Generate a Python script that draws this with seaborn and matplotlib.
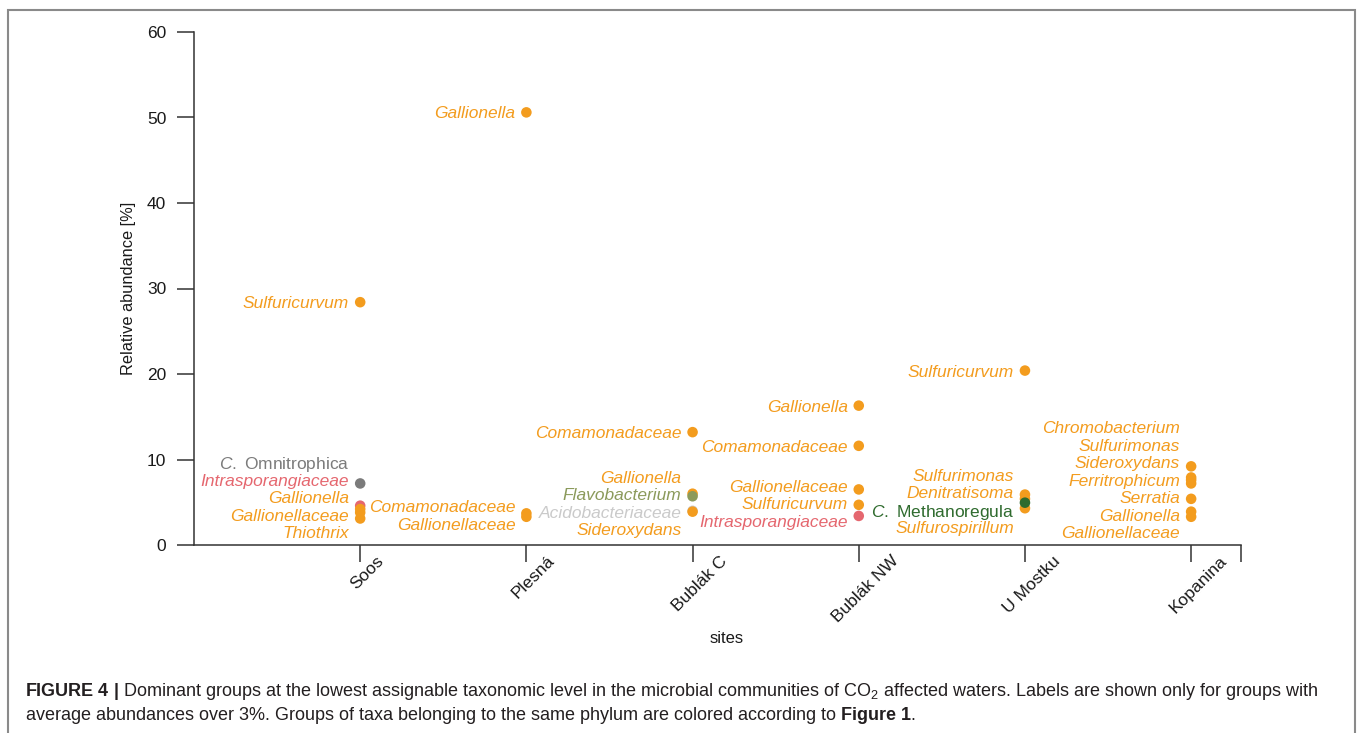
import numpy as np
import pandas as pd
import matplotlib
matplotlib.use("Agg")
import matplotlib.pyplot as plt
import matplotlib.transforms as mtransforms
from matplotlib.patches import Rectangle
import seaborn as sns

# DATA
sites = ["Soos", "Plesná", "Bublák C", "Bublák NW", "U Mostku", "Kopanina"]

site_col = (["Soos"] * 6 + ["Plesná"] * 3 + ["Bublák C"] * 5 + ["Bublák NW"] * 5
            + ["U Mostku"] * 5 + ["Kopanina"] * 7)
taxa = ["Sulfuricurvum", "C. Omnitrophica", "Intrasporangiaceae", "Gallionella", "Gallionellaceae", "Thiothrix",
        "Gallionella", "Comamonadaceae", "Gallionellaceae",
        "Comamonadaceae", "Gallionella", "Flavobacterium", "Acidobacteriaceae", "Sideroxydans",
        "Gallionella", "Comamonadaceae", "Gallionellaceae", "Sulfuricurvum", "Intrasporangiaceae",
        "Sulfuricurvum", "Sulfurimonas", "Denitratisoma", "Sulfurospirillum", "C. Methanoregula",
        "Chromobacterium", "Sulfurimonas", "Sideroxydans", "Ferritrophicum", "Serratia", "Gallionella", "Gallionellaceae"]
phylum = ["Proteobacteria", "Omnitrophica", "Actinobacteria", "Proteobacteria", "Proteobacteria", "Proteobacteria",
          "Proteobacteria", "Proteobacteria", "Proteobacteria",
          "Proteobacteria", "Proteobacteria", "Bacteroidetes", "Acidobacteria", "Proteobacteria",
          "Proteobacteria", "Proteobacteria", "Proteobacteria", "Proteobacteria", "Actinobacteria",
          "Proteobacteria", "Proteobacteria", "Proteobacteria", "Proteobacteria", "Euryarchaeota",
          "Proteobacteria", "Proteobacteria", "Proteobacteria", "Proteobacteria", "Proteobacteria", "Proteobacteria", "Proteobacteria"]
abundance = [28.4, 7.2, 4.6, 4.2, 3.8, 3.1,
             50.6, 3.7, 3.3,
             13.2, 6.0, 5.7, 4.0, 3.9,
             16.3, 11.6, 6.5, 4.7, 3.4,
             20.4, 5.9, 5.4, 4.3, 4.95,
             9.2, 7.9, 7.6, 7.2, 5.4, 3.9, 3.3]

palette = {"Proteobacteria": "#F39C1E", "Omnitrophica": "#7B7B7B", "Actinobacteria": "#E5676F",
           "Bacteroidetes": "#8B9A5B", "Acidobacteria": "#CACACA", "Euryarchaeota": "#2F6B2E"}

df = pd.DataFrame({"site": site_col, "taxon": taxa, "phylum": phylum, "abundance": abundance})

# STYLE
sns.set_style("ticks")
plt.rcParams["font.family"] = ["Liberation Sans", "DejaVu Sans"]
plt.rcParams["mathtext.fontset"] = "custom"
plt.rcParams["mathtext.rm"] = "Liberation Sans"
plt.rcParams["mathtext.it"] = "Liberation Sans:italic"
plt.rcParams["mathtext.bf"] = "Liberation Sans:bold"

fig = plt.figure(figsize=(13.6, 7.33), dpi=100)
ax = fig.add_axes([194 / 1360, 1 - 545 / 733, (1241 - 194) / 1360, (545 - 32) / 733])

sns.stripplot(data=df, x="site", y="abundance", hue="phylum", order=sites,
              palette=palette, jitter=False, size=7.6, linewidth=0, legend=False, ax=ax)


# stack labels left of the points so they do not overlap
def stack_labels(vals, gap=2.05, floor=1.5):
    n = len(vals)
    t = vals + np.arange(n) * gap
    blocks = []
    for v in t:
        blocks.append([v, 1])
        while len(blocks) > 1 and blocks[-2][0] / blocks[-2][1] < blocks[-1][0] / blocks[-1][1]:
            s, c = blocks.pop()
            blocks[-1][0] += s
            blocks[-1][1] += c
    q = np.concatenate([[s / c] * c for s, c in blocks])
    p = q - np.arange(n) * gap
    p[-1] = max(p[-1], floor)
    for i in range(n - 2, -1, -1):
        p[i] = max(p[i], p[i + 1] + gap)
    return p


for i, s in enumerate(sites):
    sub = df[df["site"] == s].sort_values("abundance", ascending=False)
    ys = stack_labels(sub["abundance"].to_numpy())
    for (_, row), y in zip(sub.iterrows(), ys):
        name = row["taxon"]
        if name.startswith("C. "):
            txt, style = r"$\mathit{C.}$ " + name[3:], "normal"
        else:
            txt, style = name, "italic"
        ax.annotate(txt, xy=(i, y), xytext=(-8, 0), textcoords="offset points",
                    ha="right", va="center_baseline", fontsize=12.5, fontstyle=style,
                    color=palette[row["phylum"]])

ax.set_xlim(-1.0, 5.3)
ax.set_ylim(0, 60)
ax.set_yticks([0, 10, 20, 30, 40, 50, 60])
ax.set_xticks(range(len(sites)))
ax.set_xticklabels(sites, rotation=45)
ax.set_xticks([5.3], minor=True)
ax.tick_params(axis="both", which="both", length=12, width=1.1, color="#333333",
               labelsize=12.5, labelcolor="#1a1a1a")
ax.tick_params(axis="y", pad=8)
ax.tick_params(axis="x", pad=-6)
shift = mtransforms.ScaledTranslation(7 / 100, 0, fig.dpi_scale_trans)
for lab in ax.get_xticklabels():
    lab.set_transform(lab.get_transform() + shift)
ax.set_xlabel("sites", fontsize=12, labelpad=5, color="#1a1a1a")
ax.xaxis.set_label_coords(0.509, -0.168)
ax.set_ylabel("Relative abundance [%]", fontsize=11.8, labelpad=8, color="#1a1a1a")
for sp in ["left", "bottom"]:
    ax.spines[sp].set_linewidth(1.1)
    ax.spines[sp].set_color("#333333")
sns.despine(ax=ax)

# figure frame and caption
fig.patches.append(Rectangle((8 / 1360, -0.05), (1355 - 8) / 1360, 1.05 - 10 / 733,
                             transform=fig.transFigure, fill=False, edgecolor="#8a8a8a", linewidth=1.5))
fig.text(25 / 1360, 1 - 696 / 733,
         r"$\mathbf{FIGURE\ 4\ |}$ Dominant groups at the lowest assignable taxonomic level in the microbial "
         r"communities of CO$_2$ affected waters. Labels are shown only for groups with",
         fontsize=13, color="#231f20", va="baseline")
fig.text(25 / 1360, 1 - 720 / 733,
         r"average abundances over 3%. Groups of taxa belonging to the same phylum are colored according to "
         r"$\mathbf{Figure\ 1}$.",
         fontsize=13, color="#231f20", va="baseline")

fig.savefig("out.png", dpi=100)
